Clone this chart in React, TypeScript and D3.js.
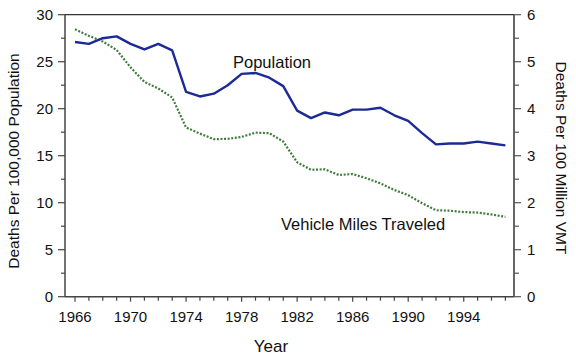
import React, { useEffect, useRef } from "react";
import * as d3 from "d3";

const years: number[] = d3.range(1966, 1998);
const populationRate: number[] = [
  27.1, 26.9, 27.5, 27.7, 26.9, 26.3, 26.9, 26.2, 21.8, 21.3, 21.6, 22.5, 23.7, 23.8, 23.3, 22.4,
  19.8, 19.0, 19.6, 19.3, 19.9, 19.9, 20.1, 19.3, 18.7, 17.4, 16.2, 16.3, 16.3, 16.5, 16.3, 16.1,
];
const vmtRate: number[] = [
  5.69, 5.55, 5.43, 5.25, 4.88, 4.57, 4.43, 4.24, 3.6, 3.47, 3.35, 3.36, 3.4, 3.49, 3.48, 3.3,
  2.86, 2.7, 2.71, 2.59, 2.61, 2.52, 2.41, 2.27, 2.16, 1.99, 1.84, 1.83, 1.8, 1.79, 1.75, 1.7,
];
const xTickLabels: number[] = [1966, 1970, 1974, 1978, 1982, 1986, 1990, 1994];
const leftTicks: number[] = [0, 5, 10, 15, 20, 25, 30];
const rightTicks: number[] = [0, 1, 2, 3, 4, 5, 6];

const W = 576;
const H = 362;
const FONT = "'Liberation Sans', Arial, Helvetica, sans-serif";

export default function App() {
  const ref = useRef<SVGSVGElement | null>(null);

  useEffect(() => {
    const svg = d3.select(ref.current);
    svg.selectAll("*").remove();

    const x0 = 65, x1 = 514, yTop = 14.7, yBot = 296.7;
    const x = d3.scaleLinear().domain([1965.28, 1997.62]).range([x0, x1]);
    const yL = d3.scaleLinear().domain([0, 30]).range([yBot, yTop]);
    const yR = d3.scaleLinear().domain([0, 6]).range([yBot, yTop]);
    const axisColor = "#444";

    // top frame line
    svg.append("line").attr("x1", x0).attr("x2", x1).attr("y1", yTop).attr("y2", yTop)
      .attr("stroke", "#333").attr("stroke-width", 1.3);

    // left axis
    const gL = svg.append("g");
    gL.append("line").attr("x1", x0).attr("x2", x0).attr("y1", yTop).attr("y2", yBot)
      .attr("stroke", axisColor).attr("stroke-width", 1.5);
    d3.range(0, 30.01, 2.5).forEach((v) => {
      const major = v % 5 === 0;
      gL.append("line").attr("x1", x0 - (major ? 7 : 4)).attr("x2", x0)
        .attr("y1", yL(v)).attr("y2", yL(v)).attr("stroke", axisColor).attr("stroke-width", 1.2);
    });
    leftTicks.forEach((v) => {
      gL.append("text").attr("x", 53).attr("y", yL(v)).attr("dy", "0.36em")
        .attr("text-anchor", "end").attr("font-family", FONT).attr("font-size", 15)
        .attr("fill", "#111").text(String(v));
    });

    // right axis
    const gR = svg.append("g");
    gR.append("line").attr("x1", x1).attr("x2", x1).attr("y1", yTop).attr("y2", yBot)
      .attr("stroke", "#555").attr("stroke-width", 1.8);
    d3.range(0, 6.01, 0.5).forEach((v) => {
      const major = Math.abs(v - Math.round(v)) < 1e-6;
      gR.append("line").attr("x1", x1).attr("x2", x1 + (major ? 7 : 5))
        .attr("y1", yR(v)).attr("y2", yR(v)).attr("stroke", "#555").attr("stroke-width", 1.2);
    });
    rightTicks.forEach((v) => {
      gR.append("text").attr("x", 527).attr("y", yR(v)).attr("dy", "0.36em")
        .attr("text-anchor", "start").attr("font-family", FONT).attr("font-size", 15)
        .attr("fill", "#111").text(String(v));
    });

    // bottom axis
    const gB = svg.append("g");
    gB.append("line").attr("x1", x0).attr("x2", x1).attr("y1", yBot).attr("y2", yBot)
      .attr("stroke", axisColor).attr("stroke-width", 1.5);
    years.forEach((yr) => {
      const major = (yr - 1966) % 4 === 0;
      gB.append("line").attr("x1", x(yr)).attr("x2", x(yr)).attr("y1", yBot)
        .attr("y2", yBot + (major ? 5 : 4)).attr("stroke", axisColor).attr("stroke-width", 1.2);
    });
    xTickLabels.forEach((yr) => {
      gB.append("text").attr("x", x(yr)).attr("y", 321.5).attr("text-anchor", "middle")
        .attr("font-family", FONT).attr("font-size", 15).attr("fill", "#111").text(String(yr));
    });

    // axis titles
    svg.append("text").attr("x", 271).attr("y", 351.5).attr("text-anchor", "middle")
      .attr("font-family", FONT).attr("font-size", 17).attr("fill", "#111").text("Year");
    svg.append("text").attr("transform", "translate(19,161) rotate(-90)")
      .attr("text-anchor", "middle").attr("font-family", FONT).attr("font-size", 15.5)
      .attr("fill", "#111").text("Deaths Per 100,000 Population");
    svg.append("text").attr("transform", "translate(556,158) rotate(90)")
      .attr("text-anchor", "middle").attr("font-family", FONT).attr("font-size", 15.5)
      .attr("fill", "#111").text("Deaths Per 100 Million VMT");

    // lines
    const lineL = d3.line<number>().x((_, i) => x(years[i])).y((d) => yL(d));
    const lineR = d3.line<number>().x((_, i) => x(years[i])).y((d) => yR(d));
    svg.append("path").attr("d", lineR(vmtRate) || "").attr("fill", "none")
      .attr("stroke", "#3f7d3a").attr("stroke-width", 2.2).attr("stroke-dasharray", "2,1.6");
    svg.append("path").attr("d", lineL(populationRate) || "").attr("fill", "none")
      .attr("stroke", "#1c2a95").attr("stroke-width", 2.4).attr("stroke-linejoin", "round");

    // series labels
    svg.append("text").attr("x", 233).attr("y", 68).attr("font-family", FONT)
      .attr("font-size", 16.5).attr("fill", "#111").text("Population");
    svg.append("text").attr("x", 281).attr("y", 230).attr("font-family", FONT)
      .attr("font-size", 16.5).attr("fill", "#111").text("Vehicle Miles Traveled");
  }, []);

  return (
    <svg ref={ref} width={W} height={H}
      style={{ position: "absolute", left: 0, top: 0, background: "#fff" }} />
  );
}
